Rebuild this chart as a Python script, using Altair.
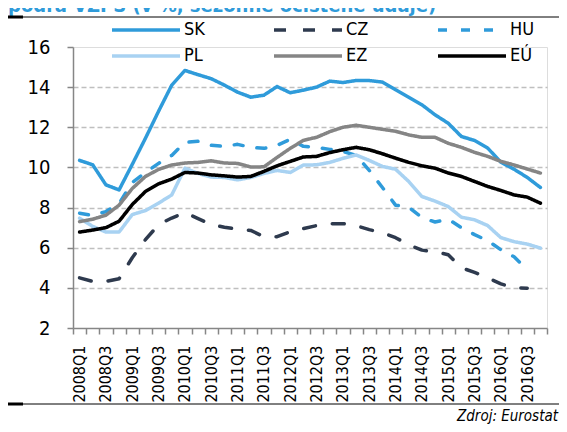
import json
import altair as alt
import pandas as pd

quarters = ["2008Q1", "2008Q2", "2008Q3", "2008Q4", "2009Q1", "2009Q2", "2009Q3", "2009Q4",
            "2010Q1", "2010Q2", "2010Q3", "2010Q4", "2011Q1", "2011Q2", "2011Q3", "2011Q4",
            "2012Q1", "2012Q2", "2012Q3", "2012Q4", "2013Q1", "2013Q2", "2013Q3", "2013Q4",
            "2014Q1", "2014Q2", "2014Q3", "2014Q4", "2015Q1", "2015Q2", "2015Q3", "2015Q4",
            "2016Q1", "2016Q2", "2016Q3", "2016Q4"]

sk = [10.35, 10.13, 9.13, 8.88, 10.15, 11.45, 12.8, 14.1, 14.83, 14.62, 14.42, 14.1,
      13.75, 13.5, 13.6, 14.03, 13.72, 13.85, 14.0, 14.3, 14.23, 14.33, 14.33, 14.25,
      13.87, 13.5, 13.12, 12.62, 12.2, 11.54, 11.34, 10.96, 10.26, 9.91, 9.5, 9.0]
cz = [4.5, 4.32, 4.32, 4.45, 5.5, 6.4, 7.15, 7.48, 7.75, 7.45, 7.15, 7.02,
      6.92, 6.86, 6.55, 6.55, 6.8, 6.95, 7.1, 7.2, 7.2, 7.1, 6.9, 6.75,
      6.5, 6.15, 5.88, 5.8, 5.65, 5.0, 4.77, 4.5, 4.2, 4.0, 3.98]
hu = [7.72, 7.6, 7.8, 8.2, 9.25, 9.75, 10.2, 10.6, 11.25, 11.3, 11.1, 11.05,
      11.15, 11.0, 10.95, 11.1, 11.4, 11.05, 11.0, 10.9, 10.8, 10.6, 9.85, 9.0,
      8.12, 8.02, 7.5, 7.28, 7.42, 7.0, 6.65, 6.35, 5.9, 5.55, 4.9]
pl = [7.47, 7.06, 6.78, 6.78, 7.65, 7.85, 8.22, 8.63, 9.96, 9.7, 9.52, 9.5,
      9.38, 9.5, 9.7, 9.85, 9.75, 10.12, 10.13, 10.25, 10.45, 10.62, 10.35, 10.05,
      9.91, 9.3, 8.55, 8.32, 8.05, 7.52, 7.39, 7.1, 6.5, 6.3, 6.18, 5.98]
ez = [7.3, 7.42, 7.62, 8.12, 8.95, 9.55, 9.9, 10.12, 10.22, 10.25, 10.33, 10.22,
      10.2, 10.02, 10.03, 10.5, 10.95, 11.35, 11.5, 11.78, 12.0, 12.1, 12.0, 11.9,
      11.8, 11.62, 11.5, 11.5, 11.2, 11.0, 10.75, 10.55, 10.3, 10.12, 9.92, 9.72]
eu = [6.78, 6.88, 7.0, 7.32, 8.15, 8.8, 9.18, 9.42, 9.75, 9.72, 9.63, 9.58,
      9.52, 9.55, 9.8, 10.08, 10.3, 10.52, 10.55, 10.74, 10.88, 11.0, 10.88, 10.68,
      10.46, 10.25, 10.08, 9.96, 9.72, 9.55, 9.3, 9.05, 8.85, 8.63, 8.52, 8.22]

series_names = ["SK", "CZ", "HU", "PL", "EZ", "EÚ"]
series_values = [sk, cz, hu, pl, ez, eu]
# legend order (filled column by column: SK/PL, CZ/EZ, HU/EÚ)
legend_order = ["SK", "PL", "CZ", "EZ", "HU", "EÚ"]
color_map = {"SK": "#2F9BDA", "CZ": "#2E3A4E", "HU": "#2F9BDA",
             "PL": "#A8D2F2", "EZ": "#858585", "EÚ": "#000000"}
dash_map = {"SK": [1, 0], "CZ": [12, 17], "HU": [9, 14],
            "PL": [1, 0], "EZ": [1, 0], "EÚ": [1, 0]}

y_ticks = [2, 4, 6, 8, 10, 12, 14, 16]
title_text = "podľa VZPS (v %, sezónne očistené údaje)"
source_text = "Zdroj: Eurostat"

FONT = "Liberation Sans Narrow, Arial Narrow, DejaVu Sans Condensed, sans-serif"

rows = []
for k, (name, vals) in enumerate(zip(series_names, series_values)):
    for i, v in enumerate(vals):
        rows.append({"series": name, "k": k, "idx": i, "pos": i + 0.5,
                     "quarter": quarters[i], "value": v})
df = pd.DataFrame(rows)

W, H = 474, 281
PAD = {"left": 65, "top": 39, "right": 12, "bottom": 96}

x_values = [v / 2 for v in range(0, 73)]
label_expr = (f"(datum.value % 1 == 0.5 && floor(datum.value) % 2 == 0) ? "
              f"{json.dumps(quarters, ensure_ascii=False)}[floor(datum.value)] : ''")

legend = alt.Legend(title=None, orient="none", legendX=37, legendY=-26, columns=3,
                    symbolType="M-6,0H6", symbolSize=128.4, symbolStrokeWidth=3.5,
                    symbolOffset=27, labelOffset=29,
                    labelFontSize=18, labelFont=FONT, labelColor="#000000",
                    columnPadding=62, rowPadding=8)

lines = alt.Chart(df).mark_line(strokeWidth=3.5, strokeCap="round", strokeJoin="round").encode(
    x=alt.X("pos:Q", scale=alt.Scale(domain=[0, 36], nice=False, zero=False),
            axis=alt.Axis(values=x_values, title=None, grid=False, labelExpr=label_expr,
                          labelAngle=270, labelFontSize=16, labelFont=FONT, labelColor="#000000",
                          labelOverlap=False, labelFlush=False, labelPadding=11, tickSize=6,
                          tickOpacity={"condition": {"test": "datum.value % 1 != 0", "value": 0}, "value": 1},
                          tickColor="#868686", tickWidth=1.5, domainColor="#868686", domainWidth=1.5)),
    y=alt.Y("value:Q", scale=alt.Scale(domain=[2, 16], nice=False, zero=False),
            axis=alt.Axis(values=y_ticks, title=None, grid=True, gridColor="#BFBFBF",
                          gridDash=[5, 3], gridWidth=1.5,
                          gridOpacity={"condition": {"test": "datum.value == 2 || datum.value == 16", "value": 0}, "value": 1},
                          labelFontSize=20, labelFont=FONT, labelColor="#000000", labelPadding=17,
                          tickSize=6, tickColor="#868686", tickWidth=1.5,
                          domainColor="#868686", domainWidth=1.5)),
    color=alt.Color("series:N", scale=alt.Scale(domain=legend_order,
                                                range=[color_map[s] for s in legend_order]),
                    legend=legend),
    strokeDash=alt.StrokeDash("series:N", scale=alt.Scale(domain=legend_order,
                                                          range=[dash_map[s] for s in legend_order]),
                              legend=legend),
    order=alt.Order("idx:Q"),
)

deco = pd.DataFrame({"d": [0]})
title = alt.Chart(deco).mark_text(text=title_text, align="left", baseline="alphabetic",
                                  fontWeight="bold", fontSize=20, font=FONT, color="#2F9BDA").encode(
    x=alt.value(-65), y=alt.value(-35))
top_rule = alt.Chart(deco).mark_rule(color="#000000", strokeWidth=1).encode(
    x=alt.value(-65), x2=alt.value(486), y=alt.value(-30))
top_thick = alt.Chart(deco).mark_rule(color="#000000", strokeWidth=3).encode(
    x=alt.value(-65), x2=alt.value(-50), y=alt.value(-30))
bot_rule = alt.Chart(deco).mark_rule(color="#000000", strokeWidth=1).encode(
    x=alt.value(-65), x2=alt.value(486), y=alt.value(357))
bot_thick = alt.Chart(deco).mark_rule(color="#000000", strokeWidth=3).encode(
    x=alt.value(-65), x2=alt.value(-50), y=alt.value(357))
src = alt.Chart(deco).mark_text(text=source_text, align="right", baseline="alphabetic",
                                fontStyle="italic", fontSize=15, font=FONT, color="#000000").encode(
    x=alt.value(485), y=alt.value(374))

chart = alt.layer(title, top_rule, top_thick, bot_rule, bot_thick, src, lines).properties(
    width=W, height=H, padding=PAD, autosize=alt.AutoSizeParams(type="none"),
).configure_view(stroke=None).configure(background="#FFFFFF")

chart.save("out.html", embed_options={"renderer": "svg", "actions": False})
